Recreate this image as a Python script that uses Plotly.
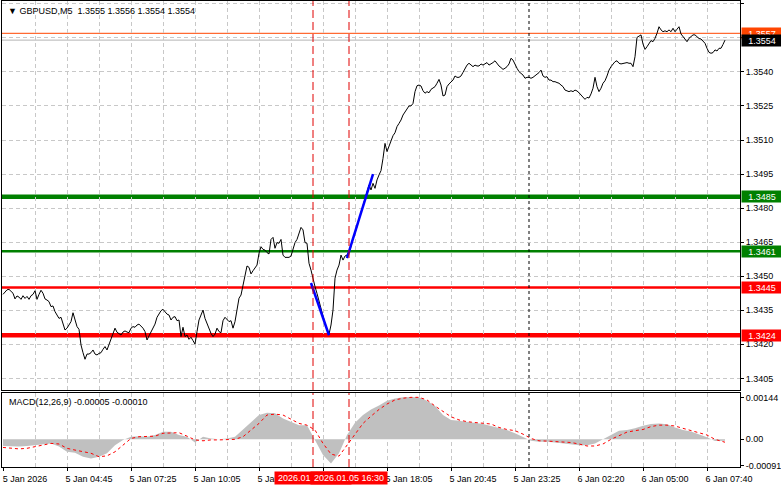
import plotly.graph_objects as go

# ---------------- data ----------------
symbol_title = "GBPUSD,M5"
ohlc_values = ["1.3555", "1.3556", "1.3554", "1.3554"]
macd_title = "MACD(12,26,9) -0.00005 -0.00010"

tick_idx = [0, 32, 64, 96, 128, 160, 192, 224, 256, 288, 320, 352]
tick_text = ["5 Jan 2026", "5 Jan 04:45", "5 Jan 07:25", "5 Jan 10:05", "5 Jan 12:45",
             "5 Jan 15:25", "5 Jan 18:05", "5 Jan 20:45", "5 Jan 23:25", "6 Jan 02:20",
             "6 Jan 05:00", "6 Jan 07:40"]

price_ticks = [1.3405, 1.3420, 1.3435, 1.3450, 1.3465, 1.3480, 1.3495,
               1.3510, 1.3525, 1.3540, 1.3555, 1.3570]

close = [
    1.34420, 1.34432, 1.34440, 1.34442, 1.34435, 1.34425, 1.34400, 1.34413, 1.34408, 1.34398,
    1.34414, 1.34402, 1.34411, 1.34398, 1.34414, 1.34420,
    1.34436, 1.34398, 1.34420, 1.34438, 1.34425, 1.34400,
    1.34395, 1.34388, 1.34366, 1.34369, 1.34344, 1.34329, 1.34314, 1.34319,
    1.34285, 1.34263, 1.34271, 1.34285, 1.34300, 1.34339, 1.34304, 1.34278, 1.34266, 1.34197,
    1.34163, 1.34134, 1.34157, 1.34157, 1.34163, 1.34175, 1.34157, 1.34153, 1.34160, 1.34163,
    1.34178, 1.34190, 1.34175, 1.34197, 1.34222, 1.34245, 1.34271, 1.34253, 1.34248, 1.34241,
    1.34254, 1.34259, 1.34254, 1.34251, 1.34271, 1.34278, 1.34275, 1.34285, 1.34289, 1.34281,
    1.34271, 1.34256, 1.34219, 1.34237, 1.34256, 1.34275, 1.34289, 1.34319, 1.34336, 1.34348,
    1.34354, 1.34344, 1.34333, 1.34329, 1.34307, 1.34319, 1.34322, 1.34304, 1.34307, 1.34234,
    1.34275, 1.34234, 1.34241, 1.34222, 1.34231, 1.34216, 1.34201, 1.34256, 1.34307, 1.34329,
    1.34351, 1.34314, 1.34289, 1.34266, 1.34248, 1.34234, 1.34245, 1.34271, 1.34256, 1.34251,
    1.34304, 1.34319, 1.34310, 1.34300, 1.34304, 1.34271, 1.34300, 1.34351, 1.34403, 1.34417,
    1.34457, 1.34490, 1.34545, 1.34539, 1.34510, 1.34524, 1.34535, 1.34549, 1.34601, 1.34630,
    1.34618, 1.34615, 1.34604, 1.34598, 1.34662, 1.34671, 1.34623, 1.34648, 1.34645, 1.34662,
    1.34593, 1.34583, 1.34583, 1.34583, 1.34589, 1.34615, 1.34648, 1.34662, 1.34689, 1.34715,
    1.34704, 1.34648, 1.34645, 1.34557, 1.34527, 1.34483,
    1.34454, 1.34424, 1.34388, 1.34358, 1.34322, 1.34292, 1.34263, 1.34244, 1.34285, 1.34351,
    1.34491, 1.34527, 1.34549, 1.34593, 1.34571, 1.34589, 1.34593,
    1.34608, 1.34630, 1.34667, 1.34689, 1.34718, 1.34748, 1.34777, 1.34806, 1.34843, 1.34865,
    1.34902, 1.34880, 1.34909, 1.34887, 1.34924, 1.34946, 1.34965,
    1.35019, 1.35085, 1.35049, 1.35074, 1.35100, 1.35119, 1.35132, 1.35159, 1.35173, 1.35188,
    1.35210, 1.35225, 1.35240, 1.35250, 1.35250, 1.35261, 1.35313, 1.35339, 1.35342, 1.35338,
    1.35317, 1.35306, 1.35313, 1.35308, 1.35323, 1.35328, 1.35335, 1.35350, 1.35367, 1.35342,
    1.35294, 1.35298, 1.35335, 1.35347, 1.35357, 1.35364, 1.35382, 1.35376, 1.35376, 1.35382,
    1.35398, 1.35416, 1.35430, 1.35438, 1.35430, 1.35423, 1.35430, 1.35426, 1.35426, 1.35435,
    1.35430, 1.35435, 1.35441, 1.35430, 1.35435, 1.35441, 1.35449, 1.35435, 1.35426, 1.35419,
    1.35411, 1.35416, 1.35423, 1.35435, 1.35460, 1.35452, 1.35430, 1.35416, 1.35401, 1.35394,
    1.35386, 1.35372, 1.35376, 1.35376, 1.35372, 1.35376, 1.35382, 1.35391, 1.35397, 1.35408,
    1.35382, 1.35376, 1.35379, 1.35364, 1.35364, 1.35357, 1.35357, 1.35353, 1.35350, 1.35342,
    1.35335, 1.35320, 1.35316, 1.35313, 1.35317, 1.35313, 1.35320, 1.35316, 1.35308, 1.35298,
    1.35288, 1.35279, 1.35288, 1.35285, 1.35303, 1.35328, 1.35376, 1.35335, 1.35313, 1.35328,
    1.35350, 1.35361, 1.35382, 1.35408, 1.35423, 1.35435, 1.35445, 1.35449, 1.35438, 1.35435,
    1.35438, 1.35441, 1.35441, 1.35438, 1.35438, 1.35423, 1.35467, 1.35552, 1.35558, 1.35563,
    1.35523, 1.35499, 1.35511, 1.35523, 1.35538, 1.35533, 1.35548, 1.35570, 1.35599, 1.35585,
    1.35577, 1.35581, 1.35577, 1.35585, 1.35577, 1.35592, 1.35577, 1.35588, 1.35599, 1.35567,
    1.35555, 1.35548, 1.35533, 1.35548, 1.35558, 1.35563, 1.35563, 1.35555, 1.35547,
    1.35545, 1.35536, 1.35526, 1.35504, 1.35486, 1.35482, 1.35485, 1.35497, 1.35492, 1.35504,
    1.35504, 1.35521, 1.35540,
]
bars = list(range(len(close)))

macd_idx = [0, 4, 8, 12, 16, 20, 24, 28, 32, 36, 40, 44, 48, 52, 56, 60, 64, 68, 72, 76,
            80, 84, 88, 92, 96, 100, 104, 108, 112, 116, 120, 124, 128, 132, 136, 140, 144, 148,
            152, 156, 160, 164, 168, 172, 176, 180, 184, 188, 192, 196, 200, 204, 208, 212, 216,
            220, 224, 228, 232, 236, 240, 244, 248, 252, 256, 260, 264, 268, 272, 276, 280, 284,
            288, 292, 296, 300, 304, 308, 312, 316, 320, 324, 328, 332, 336, 340, 344, 348, 352,
            356, 360, 361]
macd_main = [-0.00023, -0.00025, -0.00025, -0.00023, -0.00020, -0.00016, -0.00014, -0.00025,
             -0.00043, -0.00046, -0.00060, -0.00066, -0.00060, -0.00048, -0.00020, -0.00002,
             0.00009, 0.00011, 0.00009, 0.00015, 0.00026, 0.00026, 0.00015, 0.00009, -0.00011,
             0.00009, 0.00003, 0.00000, 0.00003, 0.00009, 0.00035, 0.00061, 0.00084, 0.00092,
             0.00090, 0.00072, 0.00061, 0.00049, 0.00049, 0.00000, -0.00054, -0.00083, -0.00048,
             0.00015, 0.00057, 0.00084, 0.00103, 0.00117, 0.00133, 0.00141, 0.00145, 0.00146,
             0.00145, 0.00133, 0.00115, 0.00084, 0.00067, 0.00064, 0.00061, 0.00057, 0.00053,
             0.00046, 0.00038, 0.00032, 0.00021, 0.00007, -0.00005, -0.00008, -0.00008, -0.00011,
             -0.00014, -0.00016, -0.00020, -0.00020, -0.00014, 0.00000, 0.00015, 0.00030, 0.00032,
             0.00038, 0.00047, 0.00053, 0.00055, 0.00052, 0.00041, 0.00032, 0.00027, 0.00018,
             0.00007, -0.00006, -0.00006, -0.00005]
macd_signal = [-0.00028, -0.00031, -0.00033, -0.00031, -0.00025, -0.00020, -0.00014, -0.00016,
               -0.00031, -0.00037, -0.00043, -0.00048, -0.00060, -0.00057, -0.00043, -0.00020,
               0.00003, 0.00009, 0.00009, 0.00011, 0.00021, 0.00023, 0.00023, 0.00011, -0.00002,
               -0.00005, -0.00002, -0.00002, -0.00002, 0.00000, 0.00009, 0.00032, 0.00055, 0.00084,
               0.00087, 0.00084, 0.00069, 0.00055, 0.00049, 0.00032, -0.00014, -0.00051, -0.00058,
               -0.00020, 0.00020, 0.00055, 0.00080, 0.00103, 0.00122, 0.00136, 0.00142, 0.00145,
               0.00145, 0.00136, 0.00115, 0.00095, 0.00078, 0.00067, 0.00061, 0.00058, 0.00055,
               0.00053, 0.00041, 0.00034, 0.00030, 0.00018, 0.00003, -0.00005, -0.00006, -0.00008,
               -0.00008, -0.00011, -0.00016, -0.00023, -0.00023, -0.00016, 0.00000, 0.00013,
               0.00025, 0.00030, 0.00034, 0.00044, 0.00049, 0.00049, 0.00046, 0.00038, 0.00030,
               0.00023, 0.00015, 0.00000, -0.00008, -0.00010]
macd_labels = ["0.00144", "0.00", "-0.00091"]
macd_label_vals = [0.00144, 0.0, -0.00091]

buy_levels = [1.3485, 1.3461]
sell_levels = [1.3445, 1.3424]
ask_price = 1.3557
bid_price = 1.3554

event_bars = [155, 173]
event_labels = ["2026.01.05 15:00", "2026.01.05 16:30"]
day_break_bars = [263]

sell_leg_bars = [154, 163]
sell_leg_prices = [1.3447, 1.3424]
buy_leg_bars = [172, 185]
buy_leg_prices = [1.3458, 1.3495]

# ---------------- styles ----------------
FONT = "Liberation Sans, Arial, sans-serif"
GRID = "#C8C8C8"
GREEN = "#008000"
RED = "#FF0000"
buy_widths = [4.5, 2.5]
sell_widths = [2.5, 4.5]

fig = go.Figure()
fig.add_trace(go.Scatter(x=bars, y=close, mode="lines", line=dict(color="black", width=1),
                         xaxis="x", yaxis="y", hoverinfo="skip"))
fig.add_trace(go.Scatter(x=sell_leg_bars, y=sell_leg_prices, mode="lines",
                         line=dict(color="#0000FF", width=2.5), xaxis="x", yaxis="y", hoverinfo="skip"))
fig.add_trace(go.Scatter(x=buy_leg_bars, y=buy_leg_prices, mode="lines",
                         line=dict(color="#0000FF", width=2.5), xaxis="x", yaxis="y", hoverinfo="skip"))
fig.add_trace(go.Scatter(x=macd_idx, y=macd_main, mode="lines", fill="tozeroy",
                         fillcolor="#C0C0C0", line=dict(color="#C0C0C0", width=0),
                         xaxis="x2", yaxis="y2", hoverinfo="skip"))
fig.add_trace(go.Scatter(x=macd_idx, y=macd_signal, mode="lines",
                         line=dict(color="#FF0000", width=1, dash="3px,3px"),
                         xaxis="x2", yaxis="y2", hoverinfo="skip"))

shapes = []
for lvl, w in zip(buy_levels, buy_widths):
    shapes.append(dict(type="line", xref="paper", x0=0, x1=1, yref="y", y0=lvl, y1=lvl,
                       line=dict(color=GREEN, width=w), layer="between"))
for lvl, w in zip(sell_levels, sell_widths):
    shapes.append(dict(type="line", xref="paper", x0=0, x1=1, yref="y", y0=lvl, y1=lvl,
                       line=dict(color=RED, width=w), layer="between"))
shapes.append(dict(type="line", xref="paper", x0=0, x1=1, yref="y", y0=ask_price, y1=ask_price,
                   line=dict(color="#FF4500", width=1), layer="between"))
shapes.append(dict(type="line", xref="paper", x0=0, x1=1, yref="y", y0=bid_price, y1=bid_price,
                   line=dict(color="#B4B4B4", width=1), layer="between"))
for b in event_bars:
    for yr, ya in (("y domain", "x"), ("y2 domain", "x2")):
        shapes.append(dict(type="line", xref=ya, x0=b, x1=b, yref=yr, y0=0, y1=1,
                           line=dict(color="#E00000", width=1, dash="8px,4px"), layer="above"))
for b in day_break_bars:
    for yr, ya in (("y domain", "x"), ("y2 domain", "x2")):
        shapes.append(dict(type="line", xref=ya, x0=b, x1=b, yref=yr, y0=0, y1=1,
                           line=dict(color="black", width=1, dash="3px,3px"), layer="above"))

annotations = []
annotations.append(dict(xref="paper", yref="paper", x=0, y=1, xanchor="left", yanchor="top",
                        xshift=4, yshift=-3, showarrow=False,
                        text="\u25BC\u00a0" + symbol_title + "\u00a0\u00a0" + " ".join(ohlc_values),
                        font=dict(family=FONT, size=9, color="black")))
annotations.append(dict(xref="paper", yref="y2 domain", x=0, y=1, xanchor="left", yanchor="top",
                        xshift=5, yshift=-2, showarrow=False, text=macd_title,
                        font=dict(family=FONT, size=9, color="black")))


def price_box(val, bg):
    return dict(xref="paper", yref="y", x=1, y=val, xanchor="left", yanchor="middle", xshift=1,
                showarrow=False, text=f"{val:.4f}", bgcolor=bg, width=40, height=11, borderpad=0,
                align="center", font=dict(family=FONT, size=9, color="white"))


for lvl in buy_levels:
    annotations.append(price_box(lvl, GREEN))
for lvl in sell_levels:
    annotations.append(price_box(lvl, RED))
annotations.append(price_box(ask_price, "#FF4500"))
annotations.append(price_box(bid_price, "black"))

for b, lab in zip(event_bars, event_labels):
    annotations.append(dict(xref="x2", yref="paper", x=b, y=-0.0236, xanchor="center",
                            yanchor="middle", showarrow=False, text=lab, bgcolor=RED,
                            width=76, height=12, borderpad=0,
                            font=dict(family=FONT, size=9, color="white")))

grid_kw = dict(showgrid=True, gridcolor=GRID, gridwidth=1, griddash="4px,3px", zeroline=False)
minor_kw = dict(dtick=16, tick0=0, showgrid=True, gridcolor=GRID, gridwidth=1,
                griddash="4px,3px", ticks="")
x_range = [-0.5, 368.5]

fig.update_layout(
    width=781, height=489,
    margin=dict(l=2, r=41, t=1, b=22),
    paper_bgcolor="white", plot_bgcolor="white", showlegend=False,
    font=dict(family=FONT, size=9, color="black"),
    xaxis=dict(domain=[0, 1], anchor="y", range=x_range, tickmode="array", tickvals=tick_idx,
               showticklabels=False, ticks="", showline=True, mirror=True, linecolor="black",
               linewidth=1, minor=minor_kw, **grid_kw),
    xaxis2=dict(domain=[0, 1], anchor="y2", range=x_range, tickmode="array", tickvals=tick_idx,
                ticktext=tick_text, ticks="outside", ticklen=3, tickcolor="black",
                ticklabelshift=22, showline=True, mirror=True, linecolor="black", linewidth=1,
                minor=minor_kw, tickfont=dict(family=FONT, size=9, color="black"), **grid_kw),
    yaxis=dict(domain=[0.16524, 1], anchor="x", side="right", range=[1.339987, 1.357123],
               tickmode="array", tickvals=price_ticks, ticktext=[f"{v:.4f}" for v in price_ticks],
               ticks="outside", ticklen=3, tickcolor="black", showline=True, mirror=True,
               linecolor="black", linewidth=1, tickfont=dict(family=FONT, size=9, color="black"),
               **grid_kw),
    yaxis2=dict(domain=[0, 0.1588], anchor="x2", side="right", range=[-0.000955, 0.0016],
                tickmode="array", tickvals=macd_label_vals, ticktext=macd_labels,
                ticks="outside", ticklen=3, tickcolor="black", showline=True, mirror=True,
                linecolor="black", linewidth=1, showgrid=False, zeroline=False,
                tickfont=dict(family=FONT, size=9, color="black")),
    shapes=shapes,
    annotations=annotations,
)

fig.write_html("out.html", config={"displayModeBar": False})

# remove the browser's default page margin so the figure sits at the window's top-left corner
with open("out.html", "r", encoding="utf-8") as fh:
    page = fh.read()
page = page.replace("<head>", "<head><style>html,body{margin:0;padding:0;overflow:hidden;}</style>", 1)
with open("out.html", "w", encoding="utf-8") as fh:
    fh.write(page)
